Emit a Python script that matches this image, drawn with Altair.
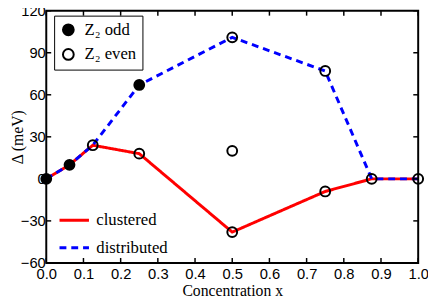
import altair as alt
import pandas as pd

# Data
x_vals = [0.0, 0.0625, 0.125, 0.25, 0.5, 0.75, 0.875, 1.0]
clustered = [0, 10, 24, 18, -38, -9, 0, 0]
distributed = [0, 10, 24, 67, 101, 77, 0, 0]

odd_x = [0.0, 0.0625, 0.25]
odd_y = [0, 10, 67]
even_x = [0.125, 0.25, 0.5, 0.5, 0.5, 0.75, 0.75, 0.875, 1.0]
even_y = [24, 18, 101, 20, -38, 77, -9, 0, 0]

x_ticks = [0.0, 0.1, 0.2, 0.3, 0.4, 0.5, 0.6, 0.7, 0.8, 0.9, 1.0]
y_ticks = [-60, -30, 0, 30, 60, 90, 120]

W, H = 379, 257
TL = 5  # inward tick length (px)

lines_df = pd.DataFrame(
    {"x": x_vals + x_vals,
     "y": clustered + distributed,
     "series": ["clustered"] * len(x_vals) + ["distributed"] * len(x_vals)}
)
pts_df = pd.DataFrame(
    {"x": odd_x + even_x,
     "y": odd_y + even_y,
     "parity": ["Z₂ odd"] * len(odd_x) + ["Z₂ even"] * len(even_x)}
)
xt_df = pd.DataFrame({"x": x_ticks})
yt_df = pd.DataFrame({"y": y_ticks})
frame_df = pd.DataFrame({"x": [x_ticks[0]], "x2": [x_ticks[-1]],
                         "y": [y_ticks[0]], "y2": [y_ticks[-1]]})

xscale = alt.Scale(domain=[0, 1], nice=False, zero=False)
yscale = alt.Scale(domain=[-60, 120], nice=False, zero=False)

x_axis = alt.Axis(orient="bottom", values=x_ticks, format=".1f",
                  title="Concentration x", ticks=False, domain=False,
                  grid=False, labelPadding=4, titlePadding=1,
                  labelFlush=False, labelOverlap=False,
                  labelFont="Liberation Sans", labelFontSize=15,
                  labelColor="black", titleFont="Liberation Serif",
                  titleFontSize=16, titleFontWeight="normal",
                  titleColor="black")
y_axis = alt.Axis(orient="left", values=y_ticks, title="Δ (meV)",
                  ticks=False, domain=False, grid=False,
                  labelPadding=1, labelFont="Liberation Sans",
                  labelFlush=False, labelOverlap=False,
                  labelFontSize=15, labelColor="black",
                  titleFont="Liberation Serif", titleFontSize=16,
                  titleFontWeight="normal", titleColor="black",
                  titleX=-21, titleBaseline="bottom")

X = lambda f="x": alt.X(f + ":Q", scale=xscale, axis=x_axis, title="Concentration x")
Y = lambda f="y": alt.Y(f + ":Q", scale=yscale, axis=y_axis, title="Δ (meV)")

lines = alt.Chart(lines_df).mark_line(strokeWidth=3).encode(
    x=X(), y=Y(),
    color=alt.Color("series:N",
                    scale=alt.Scale(domain=["clustered", "distributed"],
                                    range=["#ff0000", "#0000ff"]),
                    legend=alt.Legend(orient="none", legendX=12, legendY=197,
                                      title=None, symbolType="stroke",
                                      symbolSize=900, symbolStrokeWidth=3,
                                      labelFont="Liberation Serif",
                                      labelFontSize=17, labelColor="black",
                                      rowPadding=3, padding=0, labelOffset=6)),
    strokeDash=alt.StrokeDash("series:N",
                              scale=alt.Scale(domain=["clustered", "distributed"],
                                              range=[[1, 0], [7, 5]]),
                              legend=alt.Legend(orient="none", legendX=12, legendY=197,
                                                title=None)),
    order="x:Q",
)

tick_style = dict(color="black", strokeWidth=1.5)
xt_bottom = alt.Chart(xt_df).mark_rule(**tick_style).encode(
    x=X(), y=alt.value(H), y2=alt.value(H - TL))
xt_top = alt.Chart(xt_df).mark_rule(**tick_style).encode(
    x=X(), y=alt.value(0), y2=alt.value(TL))
yt_left = alt.Chart(yt_df).mark_rule(**tick_style).encode(
    y=Y(), x=alt.value(0), x2=alt.value(TL))
yt_right = alt.Chart(yt_df).mark_rule(**tick_style).encode(
    y=Y(), x=alt.value(W), x2=alt.value(W - TL))

frame = alt.Chart(frame_df).mark_rect(fill=None, fillOpacity=0, stroke="black",
                                      strokeWidth=2).encode(
    x=X(), x2="x2:Q", y=Y(), y2="y2:Q")

points = alt.Chart(pts_df).mark_point(shape="circle", size=100, strokeWidth=2,
                                      stroke="black", opacity=1).encode(
    x=X(), y=Y(),
    fill=alt.Fill("parity:N",
                  scale=alt.Scale(domain=["Z₂ odd", "Z₂ even"],
                                  range=["black", "transparent"]),
                  legend=alt.Legend(orient="none", legendX=8, legendY=5,
                                    title=None, symbolType="circle",
                                    symbolSize=120, symbolStrokeColor="black",
                                    symbolStrokeWidth=2,
                                    labelFont="Liberation Serif",
                                    labelFontSize=17, labelColor="black",
                                    strokeColor="black", fillColor="white",
                                    padding=6, rowPadding=6, labelOffset=8)),
)

chart = alt.layer(lines, xt_bottom, xt_top, yt_left, yt_right, frame, points).properties(
    width=W, height=H,
    background="white",
    autosize=alt.AutoSizeParams(type="none"),
    padding={"left": 39, "top": 0, "right": 10, "bottom": 35},
).configure_view(stroke=None)

chart.save("out.html", embed_options={"renderer": "svg", "actions": False})
